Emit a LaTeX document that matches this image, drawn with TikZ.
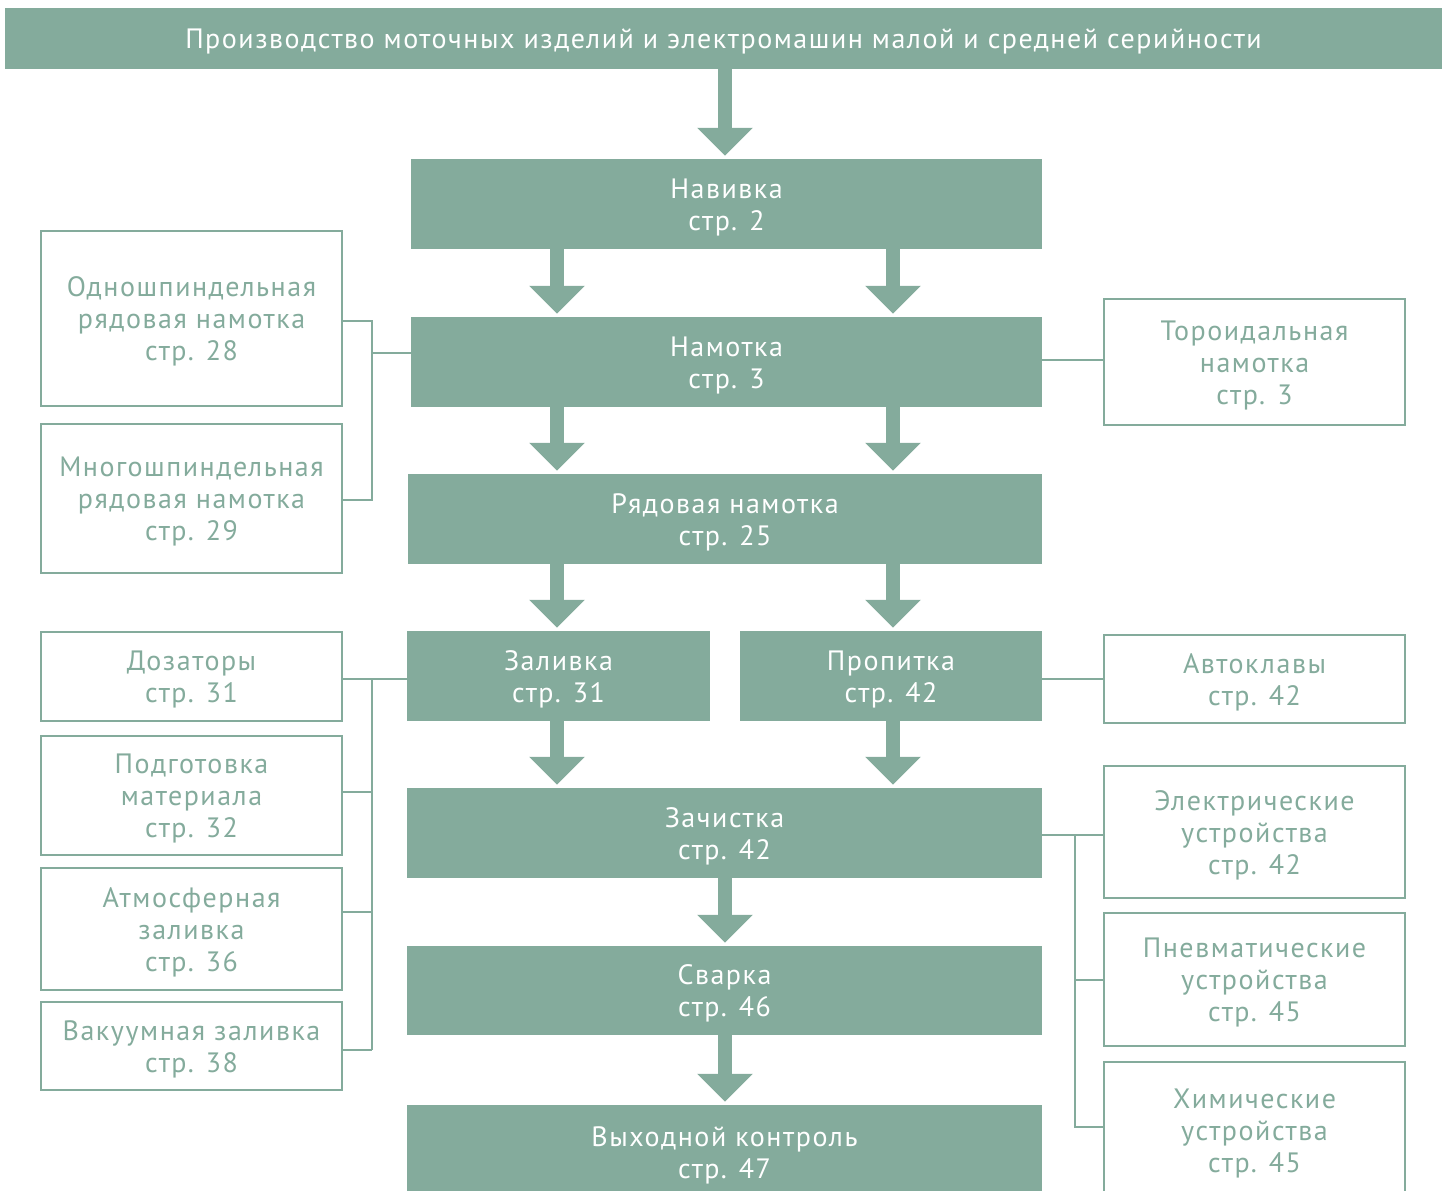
\documentclass[tikz,border=0pt]{standalone}
\usepackage{fontspec}
\setmainfont[LetterSpace=5.5]{PT Sans}
\usetikzlibrary{arrows.meta}
\definecolor{sage}{HTML}{84AB9C}
\begin{document}
\begin{tikzpicture}[x=1pt,y=-1pt,
  every node/.style={font=\fontsize{28}{32}\selectfont, align=center, inner sep=0pt},
  fillbox/.style={fill=sage},
  outbox/.style={draw=sage, line width=2.6pt},
  link/.style={draw=sage, line width=2.6pt},
  bigarrow/.style={draw=sage, line width=13.5pt, -{Triangle[width=54pt,length=28pt]}, shorten >=3pt}
]
\useasboundingbox (0,0) rectangle (1449,1191);
% helper macro: name, x1, y1, x2, y2, style, text colour, text
\newcommand{\boxat}[8]{\node[#6, minimum width=#4-#2, minimum height=#5-#3,
   label={[text=#7, yshift=-3pt]center:{#8}}] (#1) at ({(#2+#4)/2},{(#3+#5)/2}) {};}
\boxat{title}{5}{8}{1442}{69}{fillbox}{white}{Производство моточных изделий и электромашин малой и средней серийности}
\boxat{nav}{411}{159}{1042}{249}{fillbox}{white}{Навивка\\стр. 2}
\boxat{nam}{411}{317}{1042}{407}{fillbox}{white}{Намотка\\стр. 3}
\boxat{ryad}{408}{474}{1042}{564}{fillbox}{white}{Рядовая намотка\\стр. 25}
\boxat{zal}{407}{631}{710}{721}{fillbox}{white}{Заливка\\стр. 31}
\boxat{prop}{740}{631}{1042}{721}{fillbox}{white}{Пропитка\\стр. 42}
\boxat{zach}{407}{788}{1042}{878}{fillbox}{white}{Зачистка\\стр. 42}
\boxat{svar}{407}{946}{1042}{1035}{fillbox}{white}{Сварка\\стр. 46}
\boxat{vyh}{407}{1105}{1042}{1199}{fillbox}{white}{Выходной контроль\\стр. 47}
% left boxes
\boxat{odno}{41}{231}{342}{406}{outbox}{sage}{Одношпиндельная\\рядовая намотка\\стр. 28}
\boxat{mnogo}{41}{424}{342}{573}{outbox}{sage}{Многошпиндельная\\рядовая намотка\\стр. 29}
\boxat{doz}{41}{632}{342}{721}{outbox}{sage}{Дозаторы\\стр. 31}
\boxat{podg}{41}{736}{342}{855}{outbox}{sage}{Подготовка\\материала\\стр. 32}
\boxat{atm}{41}{868}{342}{990}{outbox}{sage}{Атмосферная\\заливка\\стр. 36}
\boxat{vak}{41}{1002}{342}{1090}{outbox}{sage}{Вакуумная заливка\\стр. 38}
% right boxes
\boxat{toro}{1104}{299}{1405}{425}{outbox}{sage}{Тороидальная\\намотка\\стр. 3}
\boxat{avto}{1104}{635}{1405}{723}{outbox}{sage}{Автоклавы\\стр. 42}
\boxat{elek}{1104}{766}{1405}{898}{outbox}{sage}{Электрические\\устройства\\стр. 42}
\boxat{pnev}{1104}{913}{1405}{1046}{outbox}{sage}{Пневматические\\устройства\\стр. 45}
\boxat{him}{1104}{1062}{1405}{1198}{outbox}{sage}{Химические\\устройства\\стр. 45}
% big arrows
\draw[bigarrow] (title.south -| 725,0) -- (nav.north -| 725,0);
\draw[bigarrow] (nav.south -| 557,0) -- (nam.north -| 557,0);
\draw[bigarrow] (nav.south -| 893,0) -- (nam.north -| 893,0);
\draw[bigarrow] (nam.south -| 557,0) -- (ryad.north -| 557,0);
\draw[bigarrow] (nam.south -| 893,0) -- (ryad.north -| 893,0);
\draw[bigarrow] (ryad.south -| 557,0) -- (zal.north -| 557,0);
\draw[bigarrow] (ryad.south -| 893,0) -- (prop.north -| 893,0);
\draw[bigarrow] (zal.south -| 557,0) -- (zach.north -| 557,0);
\draw[bigarrow] (prop.south -| 893,0) -- (zach.north -| 893,0);
\draw[bigarrow] (zach.south -| 725,0) -- (svar.north -| 725,0);
\draw[bigarrow] (svar.south -| 725,0) -- (vyh.north -| 725,0);
% left top group
\coordinate (lt1) at (372,321);
\coordinate (lt2) at (372,500);
\draw[link] (odno.east |- lt1) -- (lt1) -- (lt2) -- (mnogo.east |- lt2);
\coordinate (lt3) at (372,353);
\draw[link] (lt3) -- (nam.west |- lt3);
% left bottom group
\coordinate (lb1) at (372,679);
\coordinate (lb2) at (372,792);
\coordinate (lb3) at (372,912);
\coordinate (lb4) at (372,1050);
\draw[link] (doz.east |- lb1) -- (zal.west |- lb1);
\draw[link] (lb1) -- (lb4);
\draw[link] (podg.east |- lb2) -- (lb2);
\draw[link] (atm.east |- lb3) -- (lb3);
\draw[link] (vak.east |- lb4) -- (lb4);
% right
\coordinate (r0) at (1070,360);
\draw[link] (nam.east |- r0) -- (toro.west |- r0);
\coordinate (r1) at (1070,679);
\draw[link] (prop.east |- r1) -- (avto.west |- r1);
\coordinate (rb1) at (1075,835);
\coordinate (rb2) at (1075,980);
\coordinate (rb3) at (1075,1127);
\draw[link] (zach.east |- rb1) -- (elek.west |- rb1);
\draw[link] (rb1) -- (rb3) -- (him.west |- rb3);
\draw[link] (rb2) -- (pnev.west |- rb2);
\end{tikzpicture}
\end{document}
